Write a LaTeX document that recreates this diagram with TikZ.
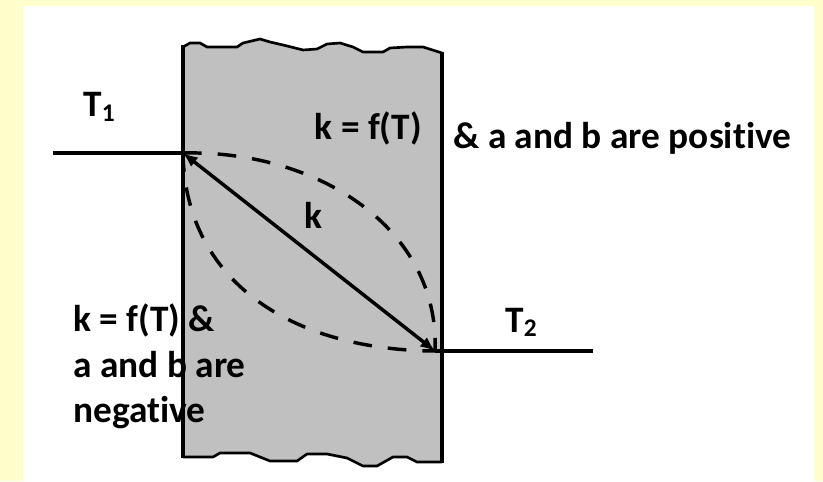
\documentclass[tikz,border=0pt]{standalone}
\usepackage{fontspec}
\setmainfont{Carlito}[Ligatures=NoCommon]
\usetikzlibrary{arrows.meta}
\definecolor{pagebg}{RGB}{255, 255, 204}
\definecolor{slabgrey}{RGB}{192, 192, 192}
\newcommand{\lowidx}[1]{\raisebox{-0.12em}{\scalebox{0.68}{#1}}}

\begin{document}
\begin{tikzpicture}[x=0.75pt, y=-0.75pt,
		lbl/.style={font=\fontsize{28}{34.1}\selectfont\bfseries, inner sep=0pt},
		edge/.style={line width=3.4pt},
		wave/.style={line width=2pt, line join=round},
		flux/.style={line width=2.6pt, >={Latex[length=11pt, width=9pt]}},
		guess/.style={line width=2.6pt, dash pattern=on 14pt off 12pt}]
			\def\xl{183}
			\def\xr{442}

			\useasboundingbox (0, 0) rectangle (823, 481);
			\fill[pagebg] (0, 0) rectangle (823, 481);
			\fill[white] (23, 6) rectangle (814, 481);

			\fill[slabgrey] (\xl, 47) -- (190, 43) -- (200, 43) -- (207, 47) -- (237, 47) -- (243, 43)
				-- (260, 39) -- (270, 42) -- (283, 45) -- (303, 50) -- (317, 49) -- (327, 44) -- (340, 43)
				-- (353, 47) -- (363, 52) -- (383, 52) -- (390, 48) -- (407, 47) -- (423, 47) -- (\xr, 53)
				-- (\xr, 462) -- (417, 462) -- (407, 457) -- (393, 457) -- (377, 466) -- (363, 466)
				-- (347, 458) -- (327, 454) -- (307, 454) -- (297, 461) -- (270, 461) -- (260, 457)
				-- (250, 453) -- (220, 453) -- (213, 457) -- (\xl, 457) -- cycle;
			\draw[wave] (\xl, 47) -- (190, 43) -- (200, 43) -- (207, 47) -- (237, 47) -- (243, 43)
				-- (260, 39) -- (270, 42) -- (283, 45) -- (303, 50) -- (317, 49) -- (327, 44) -- (340, 43)
				-- (353, 47) -- (363, 52) -- (383, 52) -- (390, 48) -- (407, 47) -- (423, 47) -- (\xr, 53);
			\draw[wave] (\xl, 457) -- (213, 457) -- (220, 453) -- (250, 453) -- (260, 457) -- (270, 461)
				-- (297, 461) -- (307, 454) -- (327, 454) -- (347, 458) -- (363, 466) -- (377, 466)
				-- (393, 457) -- (407, 457) -- (417, 462) -- (\xr, 462);
			\draw[edge] (\xl, 45) -- (\xl, 458);
			\draw[edge] (\xr, 52) -- (\xr, 463);

			\coordinate (t1end) at (53, 153);
			\coordinate (hot)   at (\xl, 153);
			\coordinate (cold)  at (435, 351);
			\coordinate (t2end) at (593, 351);

			\draw[edge] (t1end) -- (hot);
			\draw[edge] (cold) -- (t2end);
			\draw[guess] (hot) .. controls (320, 150) and (440, 230) .. (cold);
			\draw[guess] (hot) .. controls (185, 280) and (290, 350) .. (cold);
			\draw[flux, <->] (hot) -- (cold);

			\node[lbl, anchor=base west] (tone) at (83, 117) {T\lowidx{1}};
			\node[lbl, anchor=base west] (ttwo) at (505, 332) {T\lowidx{2}};
			\node[lbl, anchor=base] (kmid) at (313, 228) {k};
			\node[lbl, anchor=base east] (kpos) at (422, 140) {k = f(T)};
			\node[lbl, anchor=base west] (pos) at (453, 148) {\& a and b are positive};
			\node[lbl, anchor=north west, align=left] (neg) at (73, 304) {k = f(T) \&\\a and b are\\negative};

		\end{tikzpicture}
\end{document}
